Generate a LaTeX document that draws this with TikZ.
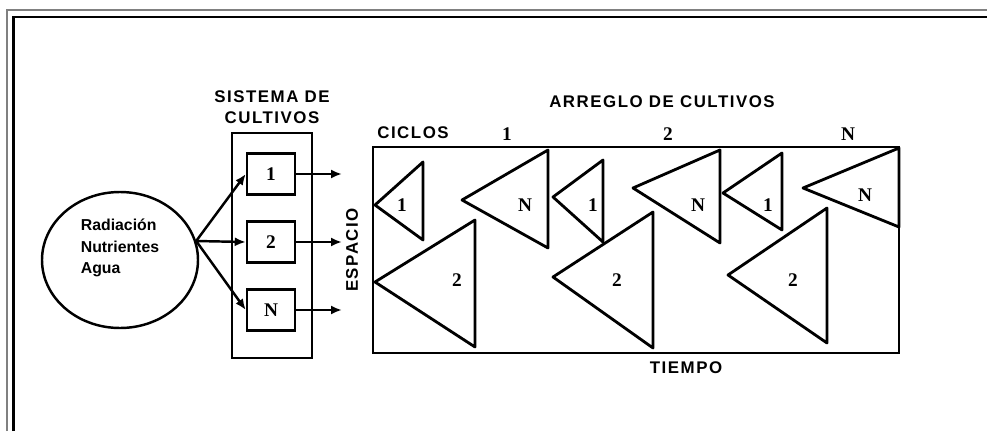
\documentclass[tikz,border=0pt]{standalone}
\usepackage{fontspec}
\setmainfont{Liberation Serif}
\newfontfamily\headfont[LetterSpace=9]{Liberation Sans}
\newfontfamily\plainsans{Liberation Sans}
\usetikzlibrary{shapes.geometric,arrows.meta}
\tikzset{
    heading/.style={font=\headfont\bfseries\fontsize{9.6}{12}\selectfont, inner sep=0pt},
    numlabel/.style={font=\bfseries\fontsize{11}{12}\selectfont, inner sep=0pt},
    cropbox/.style={draw=black, line width=1.4pt, minimum width=0.96cm, minimum height=0.82cm},
    feed/.style={line width=1.4pt, -{Latex[length=2.2mm,width=1.8mm]}},
    wedge/.style={line width=1.6pt, line join=round},
}
\begin{document}
\begin{tikzpicture}
                \useasboundingbox (0,0) rectangle (19.74,8.62);
                % page frame
                \draw[gray, line width=0.6pt] (0.14,0) -- (0.14,8.42) -- (19.74,8.42);
                \draw[line width=1.6pt] (0.27,0) -- (0.27,8.28) -- (19.74,8.28);
                
                % inputs
                \node [ellipse, draw=black, line width=1.4pt, minimum width=3.12cm, minimum height=2.72cm] (src) at (2.40,3.42) {};
                \node [font=\plainsans\bfseries\fontsize{9}{12.2}\selectfont, align=left, inner sep=0pt] (srctext) at (2.40,3.66) {Radiación\\Nutrientes\\Agua};
                
                % sistema de cultivos
                \node [draw=black, line width=1.4pt, minimum width=1.6cm, minimum height=4.5cm] (sys) at (5.44,3.71) {};
                \node [heading, align=center] (systitle) at (5.44,6.47) {SISTEMA DE\\CULTIVOS};
                \node [cropbox, numlabel] (c1) at (5.42,5.14) {1};
                \node [cropbox, numlabel] (c2) at (5.42,3.78) {2};
                \node [cropbox, numlabel] (cN) at (5.42,2.42) {N};
                
                \draw[feed] (src.14) -- (c1.west);
                \draw[feed] (src.14) -- (c2.west);
                \draw[feed] (src.14) -- (cN.west);
                
                \coordinate (o1) at (6.84,5.14);
                \coordinate (o2) at (6.84,3.78);
                \coordinate (oN) at (6.84,2.42);
                \draw[feed] (c1.east) -- (o1);
                \draw[feed] (c2.east) -- (o2);
                \draw[feed] (cN.east) -- (oN);
                
                % arreglo de cultivos
                \node [heading] (arrtitle) at (13.24,6.58) {ARREGLO DE CULTIVOS};
                \node [heading] (ciclos) at (8.26,5.96) {CICLOS};
                \node [numlabel] (k1) at (10.14,5.94) {1};
                \node [numlabel] (k2) at (13.36,5.94) {2};
                \node [numlabel] (kN) at (16.96,5.94) {N};
                \node [heading, rotate=90] (espacio) at (7.04,3.62) {ESPACIO};
                \node [heading] (tiempo) at (13.72,1.26) {TIEMPO};
                \draw[line width=1.6pt] (7.46,1.56) rectangle (17.98,5.68);
                
                % ciclo 1
                \draw[wedge] (7.50,4.52) -- (8.46,5.38) -- (8.46,3.82) -- cycle;
                \draw[wedge] (9.24,4.62) -- (10.96,5.62) -- (10.96,3.66) -- cycle;
                \draw[wedge] (7.50,2.98) -- (9.50,4.22) -- (9.50,1.68) -- cycle;
                \node [numlabel] (a1) at (8.04,4.52) {1};
                \node [numlabel] (aN) at (10.50,4.52) {N};
                \node [numlabel] (a2) at (9.14,3.02) {2};
                
                % ciclo 2
                \draw[wedge] (11.06,4.68) -- (12.06,5.42) -- (12.06,3.78) -- cycle;
                \draw[wedge] (12.66,4.86) -- (14.40,5.62) -- (14.40,3.76) -- cycle;
                \draw[wedge] (11.06,3.08) -- (13.06,4.38) -- (13.06,1.66) -- cycle;
                \node [numlabel] (b1) at (11.86,4.52) {1};
                \node [numlabel] (bN) at (13.96,4.52) {N};
                \node [numlabel] (b2) at (12.34,3.02) {2};
                
                % ciclo N
                \draw[wedge] (14.46,4.76) -- (15.64,5.56) -- (15.64,4.02) -- cycle;
                \draw[wedge] (16.06,4.86) -- (17.98,5.66) -- (17.98,4.08) -- cycle;
                \draw[wedge] (14.56,3.12) -- (16.54,4.46) -- (16.54,1.76) -- cycle;
                \node [numlabel] (d1) at (15.36,4.52) {1};
                \node [numlabel] (dN) at (17.30,4.72) {N};
                \node [numlabel] (d2) at (15.86,3.02) {2};
\end{tikzpicture}
\end{document}
